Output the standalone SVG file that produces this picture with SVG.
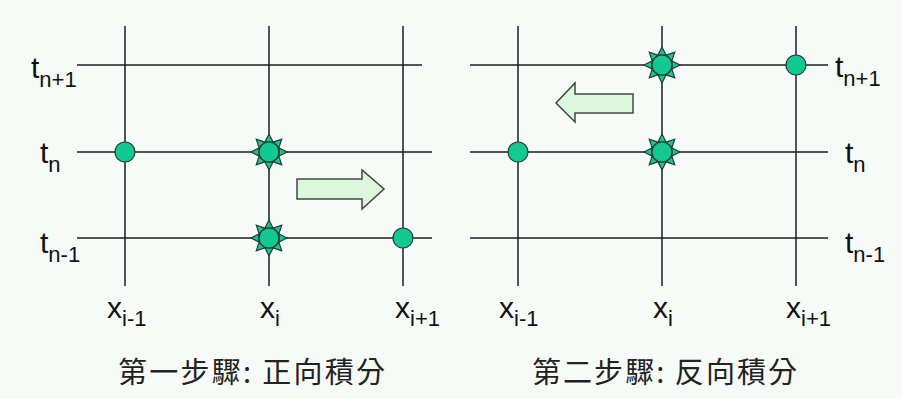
<svg xmlns="http://www.w3.org/2000/svg" xmlns:xlink="http://www.w3.org/1999/xlink" width="902" height="399" viewBox="0 0 902 399">
<defs>
<style>
.grid{stroke:#1e1e1e;stroke-width:1.5;fill:none}
.lbl{font-family:"Liberation Sans",Arial,sans-serif;font-size:30px;fill:#111}
.sub{font-size:22px}
.cap{font-family:"Noto Sans CJK TC","Noto Sans CJK SC",sans-serif;font-size:29px;fill:#222}
.node{fill:#12c991;stroke:#2a3a33;stroke-width:1.2}
.arrow{fill:#dcf8dc;stroke:#444;stroke-width:1.5}
</style>
<g id="spike"><polygon points="-4,-10 4,-10 0,-18" class="node"/></g>
<g id="star">
<use xlink:href="#spike"/>
<use xlink:href="#spike" transform="rotate(45)"/>
<use xlink:href="#spike" transform="rotate(90)"/>
<use xlink:href="#spike" transform="rotate(135)"/>
<use xlink:href="#spike" transform="rotate(180)"/>
<use xlink:href="#spike" transform="rotate(225)"/>
<use xlink:href="#spike" transform="rotate(270)"/>
<use xlink:href="#spike" transform="rotate(315)"/>
<circle r="10" class="node"/>
</g>
</defs>
<rect width="902" height="399" fill="#f6fbf8"/>
<g id="connectors">
<path class="grid" d="M77 65H422M77 152H432M77 238H432M125 26V286M269 26V286M403 26V286"/>
<path class="grid" d="M470 65H828M470 152H828M470 238H828M518 26V286M662 26V286M796 26V286"/>
</g>
<g id="left-labels">
<text class="lbl" x="31" y="78">t<tspan class="sub" dy="9">n+1</tspan></text>
<text class="lbl" x="40" y="163">t<tspan class="sub" dy="9">n</tspan></text>
<text class="lbl" x="40" y="253">t<tspan class="sub" dy="9">n-1</tspan></text>
<text class="lbl" x="107" y="318">x<tspan class="sub" dy="8">i-1</tspan></text>
<text class="lbl" x="260" y="318">x<tspan class="sub" dy="8">i</tspan></text>
<text class="lbl" x="395" y="318">x<tspan class="sub" dy="8">i+1</tspan></text>
</g>
<g id="right-labels">
<text class="lbl" x="835" y="77">t<tspan class="sub" dy="9">n+1</tspan></text>
<text class="lbl" x="845" y="163">t<tspan class="sub" dy="9">n</tspan></text>
<text class="lbl" x="845" y="253">t<tspan class="sub" dy="9">n-1</tspan></text>
<text class="lbl" x="499" y="318">x<tspan class="sub" dy="8">i-1</tspan></text>
<text class="lbl" x="653" y="318">x<tspan class="sub" dy="8">i</tspan></text>
<text class="lbl" x="786" y="318">x<tspan class="sub" dy="8">i+1</tspan></text>
</g>
<g id="node-l1"><circle cx="125" cy="152" r="10" class="node"/></g>
<g id="node-l2"><use xlink:href="#star" x="269" y="152"/></g>
<g id="node-l3"><use xlink:href="#star" x="269" y="238"/></g>
<g id="node-l4"><circle cx="403" cy="238" r="10" class="node"/></g>
<g id="node-r1"><circle cx="518" cy="152" r="10" class="node"/></g>
<g id="node-r2"><use xlink:href="#star" x="662" y="152"/></g>
<g id="node-r3"><use xlink:href="#star" x="662" y="65"/></g>
<g id="node-r4"><circle cx="796" cy="65" r="10" class="node"/></g>
<g id="arrow-right"><polygon class="arrow" points="297,179 362,179 362,170 384,189 362,209 362,199 297,199"/></g>
<g id="arrow-left"><polygon class="arrow" points="633,94 575,94 575,83 556,103 575,122 575,113 633,113"/></g>
<g id="captions">
<text class="cap" x="118" y="383" textLength="267" lengthAdjust="spacing">第一步驟: 正向積分</text>
<text class="cap" x="532" y="383" textLength="265" lengthAdjust="spacing">第二步驟: 反向積分</text>
</g>
</svg>
